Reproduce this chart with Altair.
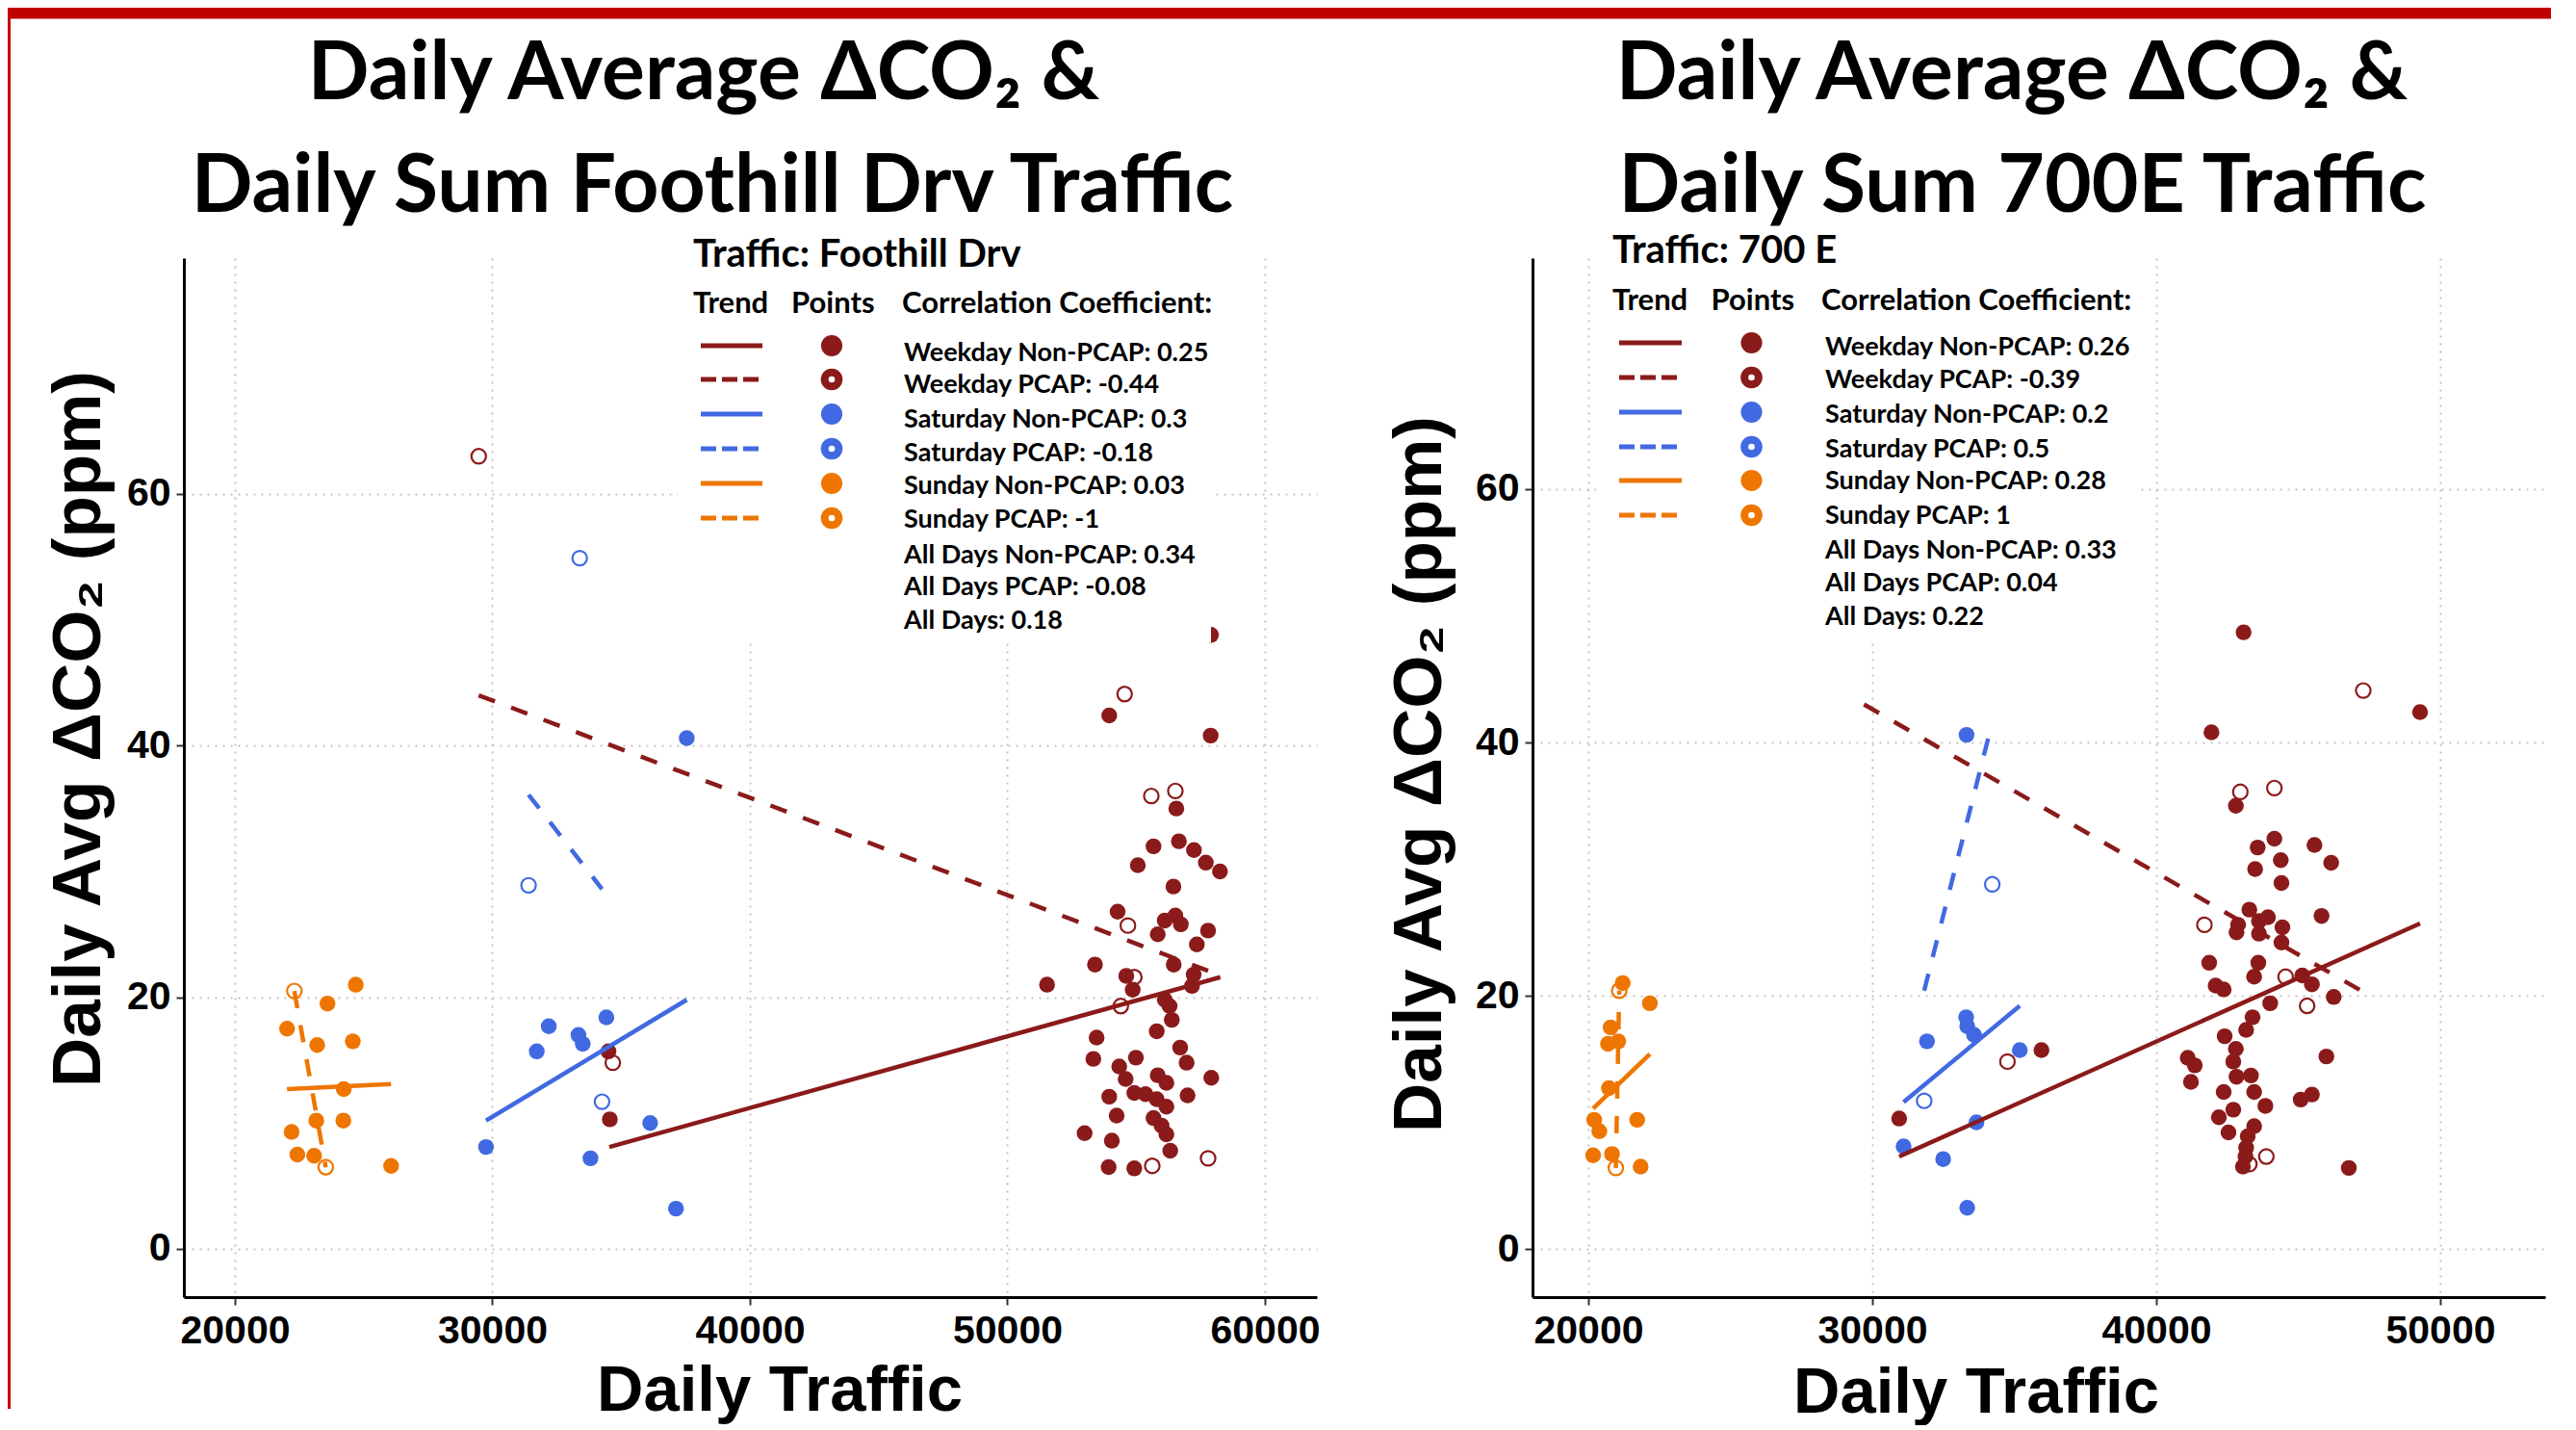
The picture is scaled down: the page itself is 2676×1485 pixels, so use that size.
import altair as alt
import pandas as pd

RED = "#8B1A1A"
BLUE = "#4169E1"
ORANGE = "#EE7600"
BAR_RED = "#C00000"
DAYS = ["Weekday", "Saturday", "Sunday"]
DAY_COLORS = [RED, BLUE, ORANGE]
TITLE_FONT = "Lato"
AXIS_FONT = "Liberation Sans"
Y_TICKS = [0, 20, 40, 60]

# ---------------- Foothill Drv (left panel) ----------------
fh_wd_np_x = [57907, 53955, 57895, 56561, 55675, 56661, 57245, 57707, 58254, 55065, 56448, 54280, 56112, 56523,
              56736, 55839, 57794, 57357, 53402, 56460, 51540, 54617, 54867, 57234, 57170, 56112, 56299, 56385,
              55801, 53465, 53339, 54991, 56710, 56960, 54343, 54592, 55839, 56175, 57918, 53955, 54928, 55364,
              55801, 56175, 56997, 54243, 55675, 55988, 56175, 52998, 54056, 56325, 53932, 54928, 34508, 34561]
fh_wd_np_y = [48.8, 42.4, 40.8, 35.0, 32.0, 32.4, 31.7, 30.7, 30.0, 30.5, 28.8, 26.8, 26.1, 26.5,
              25.8, 25.0, 25.3, 24.2, 22.6, 22.6, 21.0, 21.7, 20.6, 21.8, 20.9, 19.8, 19.3, 18.2,
              17.3, 16.8, 15.1, 15.2, 16.0, 14.8, 14.5, 13.5, 13.8, 13.2, 13.6, 12.1, 12.4, 12.3,
              11.9, 11.3, 12.2, 10.6, 10.4, 9.8, 9.1, 9.2, 8.6, 7.8, 6.5, 6.4, 15.7, 10.3]
fh_wd_p_x = [29469, 34676, 54553, 55589, 56523, 54680, 54928, 54405, 55626, 57794]
fh_wd_p_y = [63.0, 14.8, 44.1, 36.0, 36.4, 25.7, 21.6, 19.3, 6.6, 7.2]
fh_sa_np_x = [32190, 31723, 33342, 33510, 34426, 29753, 33809, 36127, 37129, 37548]
fh_sa_np_y = [17.7, 15.7, 17.0, 16.3, 18.4, 8.1, 7.2, 10.0, 3.2, 40.6]
fh_sa_p_x = [33391, 31406, 34258]
fh_sa_p_y = [54.9, 28.9, 11.7]
fh_su_np_x = [24695, 23596, 22026, 23196, 24580, 24228, 22202, 23163, 24213, 22426, 23077, 26067]
fh_su_np_y = [21.0, 19.5, 17.5, 16.2, 16.5, 12.7, 9.3, 10.2, 10.2, 7.5, 7.4, 6.6]
fh_su_p_x = [22310, 23529]
fh_su_p_y = [20.5, 6.5]
# trend line end points ([x0, x1], [y0, y1])
fh_tr_wd_np = ([34542, 58269], [8.1, 21.6])
fh_tr_wd_p = ([29469, 57794], [44.0, 22.1])
fh_tr_sa_np = ([29753, 37548], [10.2, 19.8])
fh_tr_sa_p = ([31406, 34258], [36.1, 28.6])
fh_tr_su_np = ([22026, 26067], [12.7, 13.1])
fh_tr_su_p = ([22310, 23529], [20.5, 6.5])
fh_title = ["Daily Average ΔCO₂ &", "Daily Sum Foothill Drv Traffic"]
fh_legend_title = "Traffic: Foothill Drv"
fh_legend_rows = ["Weekday Non-PCAP: 0.25", "Weekday PCAP: -0.44", "Saturday Non-PCAP: 0.3",
                  "Saturday PCAP: -0.18", "Sunday Non-PCAP: 0.03", "Sunday PCAP: -1",
                  "All Days Non-PCAP: 0.34", "All Days PCAP: -0.08", "All Days: 0.18"]
fh_xticks = [20000, 30000, 40000, 50000, 60000]

# ---------------- 700 E (right panel) ----------------
e7_wd_np_x = [43074, 41943, 49288, 42802, 43570, 44159, 45570, 46158, 43480, 44384, 44407, 45819, 43277, 42881,
              43616, 43932, 42825, 43616, 44441, 44407, 41864, 43593, 43446, 42090, 42373, 45141, 45480, 46248,
              44011, 43390, 43164, 42407, 42802, 42712, 41108, 41356, 41220, 42825, 43333, 43446, 42373, 43842,
              45989, 45085, 45480, 42712, 42203, 42542, 43446, 43220, 43164, 43051, 46780, 43141, 35956, 30946]
e7_wd_np_y = [48.7, 40.8, 42.4, 35.0, 31.7, 32.4, 31.9, 30.5, 30.0, 30.7, 28.9, 26.3, 26.8, 25.6,
              25.9, 26.2, 25.0, 24.9, 25.4, 24.2, 22.6, 22.6, 21.5, 20.8, 20.5, 21.6, 20.9, 19.9,
              19.4, 18.3, 17.3, 16.8, 15.8, 14.8, 15.1, 14.5, 13.2, 13.6, 13.7, 12.4, 12.4, 11.3,
              15.2, 11.8, 12.2, 11.0, 10.4, 9.2, 9.7, 8.9, 8.0, 6.5, 6.4, 7.3, 15.7, 10.3]
e7_wd_p_x = [29708, 34759, 47288, 42960, 44158, 41695, 44554, 45311, 43875, 43277]
e7_wd_p_y = [63.0, 14.8, 44.1, 36.1, 36.4, 25.6, 21.5, 19.2, 7.3, 6.7]
e7_sa_np_x = [33318, 31925, 33305, 33342, 33583, 35193, 33668, 31102, 32495, 33342]
e7_sa_np_y = [40.6, 16.4, 18.3, 17.6, 16.9, 15.7, 10.0, 8.1, 7.1, 3.25]
e7_sa_p_x = [34224, 31827, 33000]
e7_sa_p_y = [28.8, 11.7, 54.9]
e7_su_np_x = [21210, 22166, 20786, 20692, 21054, 20725, 20207, 20387, 21719, 20169, 20834, 21841]
e7_su_np_y = [21.0, 19.4, 17.5, 16.2, 16.4, 12.7, 10.2, 9.3, 10.2, 7.4, 7.5, 6.5]
e7_su_p_x = [21088, 20969]
e7_su_p_y = [20.4, 6.4]
e7_tr_wd_np = ([30946, 49288], [7.3, 25.7])
e7_tr_wd_p = ([29708, 47288], [43.0, 20.3])
e7_tr_sa_np = ([31102, 35193], [11.6, 19.2])
e7_tr_sa_p = ([31827, 34224], [20.4, 41.6])
e7_tr_su_np = ([20169, 22166], [11.1, 15.4])
e7_tr_su_p = ([20969, 21088], [6.4, 20.4])
e7_title = ["Daily Average ΔCO₂ &", "Daily Sum 700E Traffic"]
e7_legend_title = "Traffic: 700 E"
e7_legend_rows = ["Weekday Non-PCAP: 0.26", "Weekday PCAP: -0.39", "Saturday Non-PCAP: 0.2",
                  "Saturday PCAP: 0.5", "Sunday Non-PCAP: 0.28", "Sunday PCAP: 1",
                  "All Days Non-PCAP: 0.33", "All Days PCAP: 0.04", "All Days: 0.22"]
e7_xticks = [20000, 30000, 40000, 50000]

Y_TITLE = "Daily Avg ΔCO₂ (ppm)"
X_TITLE = "Daily Traffic"


def points_frame(sets):
    rows = []
    for day, pcap, xs, ys in sets:
        for a, b in zip(xs, ys, strict=True):
            rows.append({"traffic": a, "co2": b, "day": day, "pcap": pcap})
    return pd.DataFrame(rows)


def trend_frame(sets):
    rows = []
    for day, pcap, (xs, ys) in sets:
        for a, b in zip(xs, ys, strict=True):
            rows.append({"traffic": a, "co2": b, "day": day, "pcap": pcap})
    return pd.DataFrame(rows)


def txt(s, x, y, size, font, align="left", angle=0, baseline="alphabetic"):
    return alt.Chart(pd.DataFrame({"t": [s]})).mark_text(
        font=font, fontSize=size, fontWeight="bold", align=align, baseline=baseline,
        angle=angle, color="black"
    ).encode(x=alt.value(x), y=alt.value(y), text="t:N")


def panel(pts, trends, L):
    xs = alt.Scale(domain=L["xdom"], nice=False, zero=False)
    ys = alt.Scale(domain=L["ydom"], nice=False, zero=False)
    cs = alt.Scale(domain=DAYS, range=DAY_COLORS)
    X = alt.X("traffic:Q", scale=xs, axis=alt.Axis(values=L["xticks"], format="d", title=None))
    Y = alt.Y("co2:Q", scale=ys, axis=alt.Axis(values=Y_TICKS, title=None, labelPadding=6))
    C = alt.Color("day:N", scale=cs, legend=None)

    filled = alt.Chart(pts).transform_filter(alt.datum.pcap == "Non-PCAP").mark_circle(
        size=270, opacity=1).encode(x=X, y=Y, color=C)
    hollow = alt.Chart(pts).transform_filter(alt.datum.pcap == "PCAP").mark_point(
        shape="circle", filled=False, size=230, strokeWidth=2.2, opacity=1).encode(x=X, y=Y, color=C)
    solid = alt.Chart(trends).transform_filter(alt.datum.pcap == "Non-PCAP").mark_line(
        strokeWidth=4.5).encode(x=X, y=Y, color=C, detail="day:N")
    dashed = alt.Chart(trends).transform_filter(alt.datum.pcap == "PCAP").mark_line(
        strokeWidth=4.5, strokeDash=[18, 18]).encode(x=X, y=Y, color=C, detail="day:N")

    bg = alt.Chart(pd.DataFrame({"a": [0]})).mark_rect(color="white").encode(
        x=alt.value(L["bg"][0]), x2=alt.value(L["bg"][1]), y=alt.value(L["bg"][2]), y2=alt.value(L["bg"][3]))

    sym = pd.DataFrame({"py": L["sym_y"], "col": [RED, RED, BLUE, BLUE, ORANGE, ORANGE],
                        "kind": ["solid", "dash"] * 3})
    PY = alt.Y("py:Q", scale=None, axis=None)
    COL = alt.Color("col:N", scale=None)
    sym_solid = alt.Chart(sym).transform_filter(alt.datum.kind == "solid").mark_rule(strokeWidth=5).encode(
        x=alt.value(L["sym_line"][0]), x2=alt.value(L["sym_line"][1]), y=PY, color=COL)
    sym_dash = alt.Chart(sym).transform_filter(alt.datum.kind == "dash").mark_rule(
        strokeWidth=5, strokeDash=[16, 6]).encode(
        x=alt.value(L["sym_line"][0]), x2=alt.value(L["sym_line"][0] + 62), y=PY, color=COL)
    sym_fill = alt.Chart(sym).transform_filter(alt.datum.kind == "solid").mark_circle(
        size=490, opacity=1).encode(x=alt.value(L["sym_pt"]), y=PY, color=COL)
    sym_open = alt.Chart(sym).transform_filter(alt.datum.kind == "dash").mark_point(
        shape="circle", filled=False, size=215, strokeWidth=8, opacity=1).encode(
        x=alt.value(L["sym_pt"]), y=PY, color=COL)

    rows = pd.DataFrame({"label": L["rows"], "py": L["row_y"]})
    row_text = alt.Chart(rows).mark_text(font=TITLE_FONT, fontSize=27, fontWeight="bold", align="left",
                                         baseline="alphabetic", color="black").encode(
        x=alt.value(L["row_x"]), y=PY, text="label:N")

    layers = [filled, hollow, solid, dashed, bg, sym_solid, sym_dash, sym_fill, sym_open, row_text,
              txt(L["legend_title"], L["lt"][0], L["lt"][1], 40, TITLE_FONT),
              txt("Trend", L["hdr"][0], L["hdr_y"], 31, TITLE_FONT),
              txt("Points", L["hdr"][1], L["hdr_y"], 31, TITLE_FONT),
              txt("Correlation Coefficient:", L["hdr"][2], L["hdr_y"], 31, TITLE_FONT),
              txt(L["title"][0], L["t1"][0], L["t1"][1], 84, TITLE_FONT, align="center"),
              txt(L["title"][1], L["t2"][0], L["t2"][1], 84, TITLE_FONT, align="center"),
              txt(Y_TITLE, L["yt"][0], L["yt"][1], 71, AXIS_FONT, align="center", angle=270,
                  baseline="middle"),
              txt(X_TITLE, L["xt"][0], L["xt"][1], 67, AXIS_FONT, align="center")]
    layers += L.get("extra", [])
    return alt.layer(*layers).properties(width=L["w"], height=L["h"])


fh_pts = points_frame([("Weekday", "Non-PCAP", fh_wd_np_x, fh_wd_np_y), ("Weekday", "PCAP", fh_wd_p_x, fh_wd_p_y),
                       ("Saturday", "Non-PCAP", fh_sa_np_x, fh_sa_np_y), ("Saturday", "PCAP", fh_sa_p_x, fh_sa_p_y),
                       ("Sunday", "Non-PCAP", fh_su_np_x, fh_su_np_y), ("Sunday", "PCAP", fh_su_p_x, fh_su_p_y)])
fh_tr = trend_frame([("Weekday", "Non-PCAP", fh_tr_wd_np), ("Weekday", "PCAP", fh_tr_wd_p),
                     ("Saturday", "Non-PCAP", fh_tr_sa_np), ("Saturday", "PCAP", fh_tr_sa_p),
                     ("Sunday", "Non-PCAP", fh_tr_su_np), ("Sunday", "PCAP", fh_tr_su_p)])
e7_pts = points_frame([("Weekday", "Non-PCAP", e7_wd_np_x, e7_wd_np_y), ("Weekday", "PCAP", e7_wd_p_x, e7_wd_p_y),
                       ("Saturday", "Non-PCAP", e7_sa_np_x, e7_sa_np_y), ("Saturday", "PCAP", e7_sa_p_x, e7_sa_p_y),
                       ("Sunday", "Non-PCAP", e7_su_np_x, e7_su_np_y), ("Sunday", "PCAP", e7_su_p_x, e7_su_p_y)])
e7_tr = trend_frame([("Weekday", "Non-PCAP", e7_tr_wd_np), ("Weekday", "PCAP", e7_tr_wd_p),
                     ("Saturday", "Non-PCAP", e7_tr_sa_np), ("Saturday", "PCAP", e7_tr_sa_p),
                     ("Sunday", "Non-PCAP", e7_tr_su_np), ("Sunday", "PCAP", e7_tr_su_p)])

# slide frame (red bars) drawn in the left panel's coordinates
frame_top = alt.Chart(pd.DataFrame({"a": [0]})).mark_rect(color=BAR_RED).encode(
    x=alt.value(-183), x2=alt.value(2459), y=alt.value(-260), y2=alt.value(-248.5))
frame_left = alt.Chart(pd.DataFrame({"a": [0]})).mark_rect(color=BAR_RED).encode(
    x=alt.value(-183), x2=alt.value(-180), y=alt.value(-260), y2=alt.value(1195))

LEFT = dict(w=1177, h=1079, xdom=[18019, 62019], ydom=[-3.83, 78.75], xticks=fh_xticks,
            bg=[513, 1067, -35, 399], sym_y=[91, 126, 162, 198, 234, 270], sym_line=[537, 601], sym_pt=673,
            rows=fh_legend_rows, row_y=[106.5, 139.5, 175.5, 210.5, 244.5, 279.5, 316.5, 349.5, 384.5],
            row_x=748, legend_title=fh_legend_title, lt=[529, 9], hdr=[529, 631, 746], hdr_y=57,
            title=fh_title, t1=[540, -165], t2=[549, -48], yt=[-108, 489], xt=[619, 1197],
            extra=[frame_top, frame_left])
RIGHT = dict(w=1052, h=1079, xdom=[18034, 53695], ydom=[-3.80, 78.25], xticks=e7_xticks,
             bg=[66, 630, -40, 399], sym_y=[88, 124, 160, 196, 231, 267], sym_line=[90, 155], sym_pt=227.5,
             rows=e7_legend_rows, row_y=[100.5, 134.5, 170.5, 206.5, 239.5, 275.5, 311.5, 345.5, 380.5],
             row_x=304, legend_title=e7_legend_title, lt=[83, 5], hdr=[83, 185.5, 300], hdr_y=54,
             title=e7_title, t1=[498, -165], t2=[509, -48], yt=[-116, 536], xt=[461, 1199])

left = panel(fh_pts, fh_tr, LEFT)
right = panel(e7_pts, e7_tr, RIGHT)

chart = alt.hconcat(left, right, spacing=224, bounds="flush").properties(
    padding=0, background="white"
).configure_view(stroke=None).configure_axis(
    labelFont=AXIS_FONT, labelFontSize=41, labelFontWeight="bold", labelColor="black",
    domainColor="black", domainWidth=3, tickColor="#333333", tickWidth=2, tickSize=8,
    gridColor="#c4c4c4", gridDash=[2, 6], gridWidth=2, labelPadding=7
)

chart.save("out.html", embed_options={"renderer": "svg", "actions": False})
